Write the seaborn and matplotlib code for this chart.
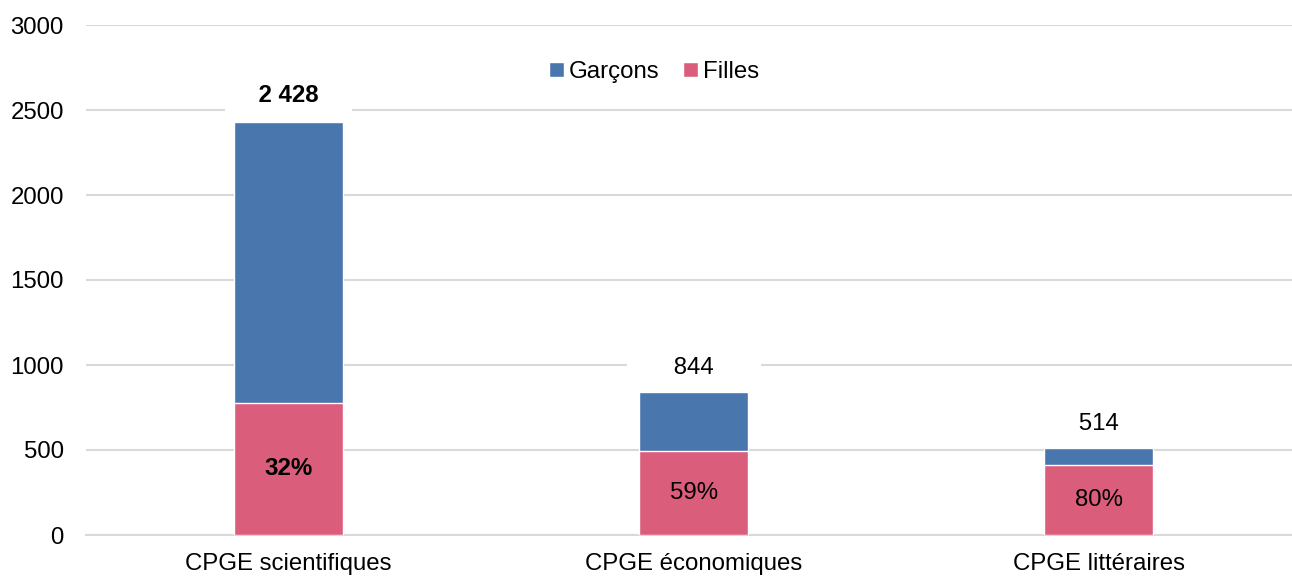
import matplotlib
matplotlib.use("Agg")
import matplotlib.pyplot as plt
import seaborn as sns
import pandas as pd
from matplotlib.patches import Patch

categories = ["CPGE scientifiques", "CPGE économiques", "CPGE littéraires"]
totals = [2428, 844, 514]
filles = [777, 495, 411]
total_labels = ["2 428", "844", "514"]
pct_labels = ["32%", "59%", "80%"]
bold_flags = [True, False, False]

BLUE = "#4A76AE"
PINK = "#DA5E7B"
GRID = "#D9D9D9"

sns.set_theme(style="white")
plt.rcParams["font.family"] = ["Liberation Sans", "DejaVu Sans"]
plt.rcParams["text.color"] = "black"
FS = 17.3

df = pd.DataFrame({"cat": categories, "total": totals, "filles": filles})

fig = plt.figure(figsize=(12.92, 5.77), dpi=100)
ax = fig.add_axes([86 / 1292, 42 / 577, 1 - 86 / 1292, 510 / 577])

sns.barplot(data=df, x="cat", y="total", color=BLUE, width=0.27, ax=ax,
            saturation=1, zorder=2)
sns.barplot(data=df, x="cat", y="filles", color=PINK, width=0.27, ax=ax,
            saturation=1, zorder=3)

ax.set_ylim(0, 3000)
ax.set_xlim(-0.5, 2.477)
ax.set_yticks(range(0, 3001, 500))
ax.set_xlabel("")
ax.set_ylabel("")
ax.yaxis.grid(True, color=GRID, linewidth=1.5, zorder=0)
ax.set_axisbelow(True)
for s in ["top", "right", "left"]:
    ax.spines[s].set_visible(False)
ax.spines["bottom"].set_color(GRID)
ax.spines["bottom"].set_linewidth(1.5)
ax.tick_params(axis="y", length=0, pad=16, labelsize=FS, labelcolor="black")
ax.tick_params(axis="x", length=0, pad=13, labelsize=FS, labelcolor="black")

for i, (t, f, tl, pl, b) in enumerate(zip(totals, filles, total_labels, pct_labels, bold_flags)):
    wt = "bold" if b else "normal"
    padtxt = "\u00a0\u00a0\u00a0\u00a0" if b else "\u00a0\u00a0\u00a0\u00a0\u00a0\u00a0"
    off = 19 if b else 17
    ax.annotate(padtxt + tl + padtxt, xy=(i, t), xytext=(0, off), textcoords="offset points",
                ha="center", va="center", fontsize=FS, fontweight=wt, color="black",
                bbox=dict(boxstyle="square,pad=0.3", fc="white", ec="none"), zorder=5)
    ax.text(i, f / 2, pl, ha="center", va="center", fontsize=FS, fontweight=wt,
            color="black", zorder=6)

handles = [Patch(facecolor=BLUE, label="Garçons"), Patch(facecolor=PINK, label="Filles")]
leg = ax.legend(handles=handles, loc="center", bbox_to_anchor=(0.471, 0.908), ncol=2,
                frameon=False, fontsize=FS, handlelength=0.6, handleheight=0.6,
                handletextpad=0.2, columnspacing=1.0)
for txt in leg.get_texts():
    txt.set_color("black")

fig.savefig("out.png", dpi=100)
